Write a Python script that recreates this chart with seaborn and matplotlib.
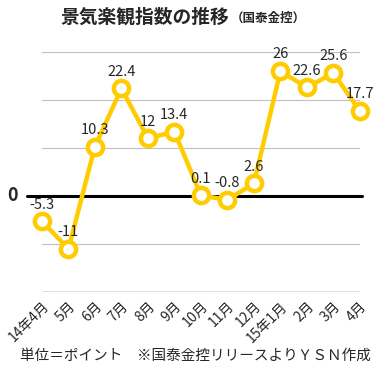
import matplotlib
matplotlib.use("Agg")
import matplotlib.pyplot as plt
import seaborn as sns
import pandas as pd

# data
months = ["14年4月", "5月", "6月", "7月", "8月", "9月", "10月", "11月", "12月",
          "15年1月", "2月", "3月", "4月"]
values = [-5.3, -11, 10.3, 22.4, 12, 13.4, 0.1, -0.8, 2.6, 26, 22.6, 25.6, 17.7]
labels = ["-5.3", "-11", "10.3", "22.4", "12", "13.4", "0.1", "-0.8", "2.6",
          "26", "22.6", "25.6", "17.7"]
grid_levels = [-20, -10, 10, 20, 30]

sns.set_style("white")
plt.rcParams['font.family'] = ['Noto Sans CJK JP', 'DejaVu Sans']

df = pd.DataFrame({"idx": range(len(months)), "value": values})

fig = plt.figure(figsize=(3.8, 3.79), dpi=100)
ax = fig.add_axes([0.1105, 0.2296, 0.8365, 0.6334])

gold = "#FFCC00"
for g in grid_levels:
    ax.axhline(g, color="#555555" if g == -20 else "#c0c0c0",
               lw=1.0 if g == -20 else 0.8, zorder=1)
ax.plot([-0.55, 12.07], [0, 0], color="black", lw=2.2, zorder=2, clip_on=False)

sns.lineplot(data=df, x="idx", y="value", ax=ax, color=gold, lw=3.2,
             marker="o", markersize=11, markerfacecolor="white",
             markeredgecolor=gold, markeredgewidth=3.2, zorder=3, clip_on=False)

for i, (v, lab) in enumerate(zip(values, labels)):
    ax.annotate(lab, (i, v), xytext=(0, 7), textcoords="offset points",
                ha="center", va="bottom", fontsize=10.5, zorder=4)

ax.set_xlim(0, len(months) - 1)
ax.set_ylim(-20, 30)
ax.set_yticks([])
ax.set_xticks(range(len(months)))
ax.set_xticklabels(months, rotation=45, ha="right", rotation_mode="anchor",
                   fontsize=10)
ax.tick_params(axis="x", length=0, pad=5)
ax.set_xlabel("")
ax.set_ylabel("")
for s in ax.spines.values():
    s.set_visible(False)

ax.text(-1.1, 0, "0", ha="center", va="center", fontsize=13,
        fontweight="bold", clip_on=False)

fig.text(60 / 380, 1 - 17 / 379, "景気楽観指数の推移", ha="left", va="center",
         fontsize=13.5, fontweight="bold")
fig.text(231 / 380, 1 - 18 / 379, "（国泰金控）", ha="left", va="center",
         fontsize=9, fontweight="bold")
fig.text(195 / 380, 1 - 356 / 379, "単位＝ポイント　※国泰金控リリースよりＹＳＮ作成",
         ha="center", va="center", fontsize=10.5)

fig.savefig("out.png", dpi=100)
